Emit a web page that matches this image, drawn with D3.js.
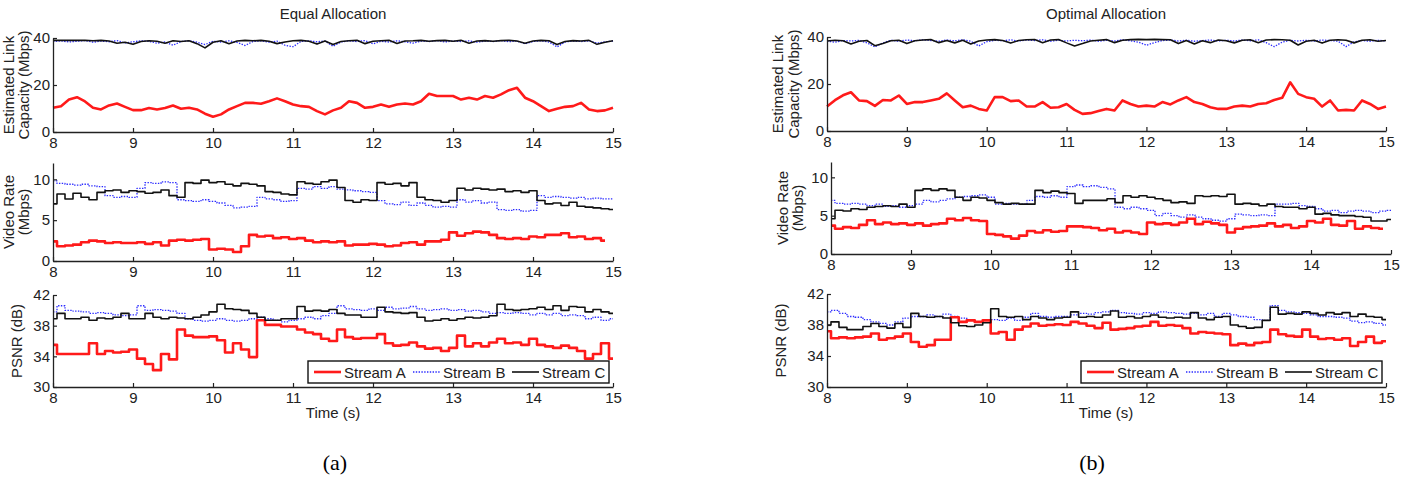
<!DOCTYPE html>
<html>
<head>
<meta charset="utf-8">
<script src="https://cdn.jsdelivr.net/npm/d3@7"></script>
<style>
  body { margin: 0; background: #fff; }
  text { font-family: "Liberation Sans", Arial, sans-serif; fill: #222; }
</style>
</head>
<body>
<svg id="chart" width="1410" height="480"></svg>
<script>
// time axis: samples every 0.1 s from 8 to 15 s
var times = d3.range(71).map(i => 8 + i / 10);
var xTicks = [8, 9, 10, 11, 12, 13, 14, 15];
var streams = ["Stream A", "Stream B", "Stream C"];

// ---- (a) Equal Allocation ----
var eqCapA = [10.3,11,13.8,14.8,13,10.3,9.6,11.3,12.1,10.7,
  9.3,9.3,10.2,9.6,10.2,11.3,9.9,10.3,9.6,7.8,
  6.5,7.5,9.6,11,12.4,12.4,12,13.1,14.3,13.1,
  11.7,11,10.7,8.9,7.5,9.2,10.3,13.1,12.4,10.3,
  10.7,11.7,10.7,11.7,12.1,11.7,13.1,16.3,15.3,15.3,
  15.3,13.8,14.6,13.8,15.3,14.6,16,17.8,18.8,14.6,
  13.1,11,8.9,9.9,10.7,11,12.4,9.6,8.9,9.2,10.3];
var eqCapB = [38.5,38.8,38.3,38.6,38.9,38.2,38.7,38.4,38.9,37.9,
  38.4,38.8,38.6,37.8,38.3,36.9,38.5,38.8,38.2,37.2,
  38.6,38.3,38.8,38.1,36.8,38.5,38.8,38.2,38.7,36.9,
  36.3,38.5,38.8,38.4,38.7,36.5,38.3,38.8,38.5,38.9,
  37.5,38.6,38.3,38.8,38.4,37.8,38.7,38.5,38.9,38.3,
  38.7,38.5,38.8,38.2,38.7,38.5,38.9,38.4,38.7,37.5,
  38.5,38.8,38.3,36.2,38.3,38.7,38.5,38.8,37.8,38.4,38.7];
var eqCapC = [39,39,39,39,39,38.8,39,38.7,37.8,38.2,
  37.3,38.5,38.8,38.6,37.8,38.8,38.5,38.8,37.6,35.8,
  38.2,38.8,37.6,38.7,39,38.8,39,38.6,37.6,38.3,
  38.8,39,38.6,37.4,38.7,37.2,38.5,38.8,39,37.6,
  38.6,38.8,39,37.7,38.7,38.8,39,38.6,38.9,39,
  38.6,39,37.8,38.7,38.9,38.6,38.9,39,38.7,37.8,
  38.7,39,38.8,37.2,38.5,38.9,38.7,39,37.3,38.2,38.8];

var eqRateA = [2.4,1.8,1.9,2.0,2.3,2.5,2.4,2.2,2.3,2.2,
  2.2,2.3,2.1,2.3,1.9,2.5,2.6,2.5,2.6,2.7,
  1.4,1.5,1.4,1.1,1.8,3.2,3.0,3.1,2.8,2.9,
  2.7,2.8,2.5,2.3,2.4,2.3,2.4,1.9,2.0,2.0,
  2.1,2.0,1.8,1.9,2.2,2.3,2.0,2.4,2.4,2.6,
  3.5,3.1,3.4,3.6,3.5,3.2,2.8,2.7,2.8,2.7,
  3.0,2.9,3.2,3.2,3.4,2.9,3.0,2.7,2.8,2.5];
var eqRateB = [9.8,9.5,9.4,9.3,9.4,9.2,9.1,8.0,7.8,7.9,
  7.8,8.9,9.6,9.5,9.7,9.6,7.5,7.4,7.3,7.5,
  7.3,7.1,6.8,6.5,6.6,6.7,7.8,7.6,7.5,7.3,
  7.4,8.9,8.8,9.1,8.9,9.1,8.8,8.7,8.6,8.5,
  8.4,7.4,7.0,6.9,7.2,6.8,7.1,6.8,6.6,6.7,
  6.6,7.5,7.2,7.4,7.1,7.2,6.3,6.2,6.3,6.1,
  6.2,8.0,7.8,7.9,7.8,7.7,7.8,7.6,7.7,7.6,7.6];
var eqRateC = [7.0,8.2,7.6,8.3,7.8,7.5,8.4,8.6,8.7,8.4,
  8.6,8.5,8.3,8.4,8.7,8.0,7.8,9.6,9.5,9.9,
  9.6,9.7,9.4,9.2,9.5,9.4,9.2,8.5,8.4,8.2,
  8.1,9.7,9.5,9.4,9.7,9.9,9.0,7.4,7.2,7.5,
  7.4,9.6,9.4,9.5,9.2,9.6,7.8,7.5,7.4,7.2,
  7.4,8.9,8.7,8.9,8.8,8.7,8.8,8.5,8.6,8.4,
  8.6,7.4,7.0,7.1,6.8,7.2,6.7,6.6,6.5,6.4,6.3];

var eqPsnrA = [35.5,34.3,34.3,34.3,34.3,35.7,34.3,34.7,34.5,34.6,
  34.9,33.7,33.0,32.2,34.3,33.6,37.5,36.7,36.5,36.5,
  36.6,36.1,34.5,35.7,34.9,33.9,38.7,38.1,38.1,37.9,
  37.9,37.5,37.1,36.9,36.3,36.0,37.5,36.5,36.3,36.4,
  36.4,36.9,35.7,35.4,35.5,35.8,35.3,35.0,35.1,34.7,
  35.1,36.7,35.3,35.7,35.3,35.8,36.3,35.7,35.8,35.5,
  36.3,35.5,35.3,35.1,35.4,35.1,34.7,33.7,34.3,35.7,33.7];
var eqPsnrB = [39.8,40.6,40.0,39.9,39.8,39.6,39.7,39.6,39.4,39.3,
  39.4,40.6,40.0,40.1,40.0,39.9,39.6,38.9,38.7,38.6,
  38.7,38.9,38.7,38.6,38.7,38.9,39.1,38.9,38.7,38.5,
  38.7,38.9,39.1,38.9,39.3,39.6,40.6,40.2,40.1,40.0,
  40.2,40.0,40.4,40.2,40.3,40.5,40.2,40.0,40.1,40.2,
  40.0,40.1,39.9,40.0,39.8,39.6,39.7,39.6,39.7,39.6,
  39.4,39.6,39.4,39.6,39.3,39.4,39.3,38.9,39.1,38.7,38.9];
var eqPsnrC = [38.9,39.6,38.9,38.9,39.1,38.7,39.0,38.9,39.1,39.6,
  38.9,38.9,39.6,39.1,38.9,39.1,39.0,38.9,39.1,39.4,
  39.8,40.8,40.2,40.1,40.0,39.6,39.1,38.7,38.7,38.9,
  38.9,40.5,39.9,40.0,39.9,40.1,39.6,39.4,39.4,39.1,
  39.1,40.4,39.8,39.7,39.6,39.7,39.1,38.6,38.7,38.9,
  38.7,38.9,39.1,39.0,39.1,39.3,40.8,40.1,40.0,40.1,
  40.2,40.4,40.1,40.6,40.0,40.5,40.4,39.8,40.1,39.8,39.6];

// ---- (b) Optimal Allocation ----
var optCapA = [10.4,13.1,15.2,16.5,13,12.7,10.7,13.2,13,15.1,
  11.5,12.3,12.3,13,13.7,16,13,10.1,10.8,9.4,
  8.7,14.4,14.4,12.7,13,10.4,10.4,12.3,9.9,10.1,
  11.5,9,7.3,7.6,8.5,9.4,8.7,13,11.5,10.4,
  10.8,10.4,12.3,11.3,13,14.4,12.3,11.5,10.1,9.4,
  9.4,10.4,10.8,10.4,11.5,11.8,13.2,14.1,20.7,15.8,
  14.4,13.7,10.4,13,8.7,9,8.7,13,11.5,9.4,10.4];
var optCapB = [38.2,37.8,38.5,38.3,38.6,37.5,35.8,37.5,38.6,38.2,
  38.7,38.4,38.8,38.5,38.2,38.7,38.4,38.8,38.2,36.2,
  38.0,38.6,38.4,38.8,38.3,38.7,38.5,38.8,38.2,38.6,
  38.3,38.6,38.4,38.7,38.2,38.6,38.3,38.8,38.4,37.8,
  36.5,37.6,38.5,38.7,38.3,38.6,38.2,38.5,38.7,38.3,
  38.6,38.3,38.7,38.4,38.8,37.6,35.9,37.8,38.6,38.3,
  38.6,38.3,38.7,38.5,38.2,35.9,37.9,38.5,38.2,38.6,38.3];
var optCapC = [38.3,38.6,38.4,37,38.2,38.5,36.3,37.2,38.4,38.6,
  37.2,38.4,38.7,38.9,37.6,38.5,37.5,38.6,37.0,38.3,
  38.7,38.9,38.5,37.4,38.5,38.8,38.9,37.6,38.7,38.9,
  37.5,36.2,37.2,38.3,38.6,38.9,37.6,38.6,38.9,39,
  38.9,39,38.9,38.8,37.2,38.5,37.0,38.4,37.6,38.7,
  38.4,37.5,38.6,38.8,37.6,38.7,38.9,38.8,38.6,36.6,
  38.2,38.6,37.4,38.6,38.8,38.6,37.5,38.6,38.8,38.2,38.5];

var optRateA = [3.7,3.3,3.5,3.4,3.8,4.4,3.9,4.1,3.9,4.0,
  3.8,4.0,3.7,3.9,4.0,4.6,4.4,4.7,4.4,4.3,
  2.6,2.5,2.3,2.0,2.4,3.0,2.8,3.1,2.9,3.0,
  3.6,3.6,3.5,3.4,3.1,3.3,2.8,3.0,2.8,2.6,
  4.1,3.9,4.0,3.8,4.1,4.6,3.9,4.2,4.0,3.8,
  2.8,3.3,3.5,3.6,3.7,4.0,3.6,3.8,3.4,3.6,
  4.3,4.1,4.6,3.8,3.7,4.3,3.3,3.6,3.4,3.3];
var optRateB = [7.0,6.6,6.5,6.6,6.5,6.3,6.5,6.2,6.3,6.1,
  6.3,6.5,7.0,6.8,7.0,7.2,7.4,7.5,7.6,7.7,
  7.4,6.5,6.6,6.5,6.5,7.0,7.5,7.4,7.6,7.4,
  8.8,9.0,8.8,8.9,8.7,8.5,6.1,5.9,6.1,5.9,
  5.7,5.0,5.3,5.0,4.8,5.1,4.8,4.6,4.4,4.3,
  4.6,5.2,5.1,5.0,5.1,5.0,6.5,6.5,6.6,6.3,
  6.2,5.9,5.6,5.7,5.4,5.6,5.7,5.6,5.4,5.6,5.7];
var optRateC = [4.6,5.7,5.6,5.9,5.8,6.1,6.2,6.3,6.2,6.5,
  6.1,8.3,8.5,8.3,8.5,8.3,7.4,7.0,7.4,7.3,
  7.0,6.7,6.5,6.6,6.5,6.5,8.3,8.0,8.2,8.0,
  7.9,6.6,7.0,7.0,7.0,7.2,6.7,7.6,7.4,7.6,
  7.4,7.2,7.0,6.7,6.8,6.6,7.6,7.5,7.6,7.5,
  7.8,6.5,6.6,6.5,6.3,6.5,6.2,6.1,6.1,5.9,
  6.1,5.2,5.3,5.1,5.0,5.0,4.9,4.8,4.3,4.3,4.5];

var optPsnrA = [37.2,36.3,36.4,36.3,36.4,36.5,36.9,36.1,36.3,36.5,
  36.9,35.8,35.2,35.4,36.1,36.1,39.0,38.4,38.6,38.4,
  38.6,36.9,37.1,36.1,37.4,37.8,38.2,37.9,38.0,38.1,
  38.0,38.4,38.2,37.9,37.6,38.3,37.4,37.5,37.6,37.8,
  37.9,38.4,37.9,38.0,37.9,37.6,36.9,37.1,37.0,36.9,
  36.8,35.4,35.6,35.4,35.7,35.8,37.4,36.8,36.6,36.5,
  37.4,36.5,36.2,36.3,36.1,36.3,35.3,35.8,36.5,35.7,35.9];
var optPsnrB = [39.7,39.9,39.5,39.1,39.0,38.7,38.4,38.2,38.0,38.4,
  38.9,39.1,39.1,39.3,39.1,39.4,39.1,38.9,38.6,38.4,
  38.6,38.7,38.6,38.9,38.6,39.0,39.5,39.1,39.0,39.1,
  39.1,39.3,39.5,39.4,39.6,39.7,39.9,39.6,39.5,39.4,
  39.6,39.5,39.7,39.6,39.5,39.4,39.5,39.3,39.5,39.1,
  39.5,39.3,39.1,39.0,38.7,38.6,40.5,39.9,39.7,39.6,
  39.5,39.3,39.1,39.1,39.0,38.9,38.5,38.3,38.4,38.2,38.0];
var optPsnrC = [38.0,38.4,37.7,37.4,37.4,37.8,38.2,37.8,37.6,38.2,
  37.7,39.5,39.1,39.0,39.1,38.9,38.3,37.9,37.8,38.0,
  38.3,40.1,39.1,39.0,39.1,38.7,39.1,38.9,38.7,38.9,
  39.0,39.7,39.0,39.1,39.0,39.3,39.8,39.0,39.1,38.9,
  39.1,39.3,39.0,38.9,39.0,38.9,39.6,38.9,38.7,39.0,
  39.1,38.0,37.8,37.6,37.7,38.6,40.3,39.4,39.5,39.4,
  39.7,39.5,39.3,39.6,39.4,39.6,39.1,39.4,39.1,39.0,38.7];

var capTicks = [0, 20, 40];
var rateTicks = [0, 5, 10];
var psnrTicks = [30, 34, 38, 42];

// stream styles: A red solid thick, B blue dotted, C black solid
var styles = [
  { color: "#ff1a1a", width: 2.6, dash: null },
  { color: "#2b2bff", width: 1.3, dash: "1.4,1.4" },
  { color: "#111", width: 1.6, dash: null }
];

var svg = d3.select("#chart");

function drawSubplot(box, yDomain, yTicks, data, labelLines, labelX, curve, legend) {
  var x = d3.scaleLinear().domain([8, 15]).range([box.x0, box.x1]);
  var y = d3.scaleLinear().domain(yDomain).range([box.y1, box.y0]);
  var g = svg.append("g");

  // the three streams, C drawn last like in the original
  [1, 0, 2].forEach(function(k) {
    var line = d3.line()
      .x((d, i) => x(times[i]))
      .y(d => y(d))
      .curve(curve);
    var p = g.append("path")
      .attr("d", line(data[k]))
      .attr("fill", "none")
      .attr("stroke", styles[k].color)
      .attr("stroke-width", styles[k].width)
      .attr("stroke-linejoin", "round");
    if (styles[k].dash) p.attr("stroke-dasharray", styles[k].dash);
  });

  var ax = g.append("g")
    .attr("transform", "translate(0," + box.y1 + ")")
    .call(d3.axisBottom(x).tickValues(xTicks).tickFormat(d3.format("d"))
      .tickSizeInner(-4).tickSizeOuter(0).tickPadding(5));
  var ay = g.append("g")
    .attr("transform", "translate(" + box.x0 + ",0)")
    .call(d3.axisLeft(y).tickValues(yTicks).tickFormat(d3.format("d"))
      .tickSizeInner(-4).tickSizeOuter(0).tickPadding(3));
  [ax, ay].forEach(function(a) {
    a.attr("font-family", null).attr("font-size", null);
    a.select(".domain").attr("stroke", "#222").attr("stroke-width", 1.3);
    a.selectAll(".tick line").attr("stroke", "#222").attr("stroke-width", 1.2);
    a.selectAll(".tick text").attr("fill", "#222").style("font-size", "15px");
  });

  // rotated y label, one text per line
  var cy = (box.y0 + box.y1) / 2;
  labelLines.forEach(function(s, i) {
    g.append("text")
      .attr("transform", "translate(" + labelX[i] + "," + cy + ") rotate(-90)")
      .attr("text-anchor", "middle")
      .attr("dominant-baseline", "central")
      .style("font-size", "15px")
      .text(s);
  });

  if (legend) {
    var lw = 301, lh = 22;
    var lx = box.x1 - 4 - lw, ly = box.y1 - 4 - lh;
    var lg = g.append("g").attr("transform", "translate(" + lx + "," + ly + ")");
    lg.append("rect").attr("width", lw).attr("height", lh)
      .attr("fill", "#fff").attr("stroke", "#111").attr("stroke-width", 1.4);
    streams.forEach(function(s, k) {
      var ox = 6 + k * 99;
      var l = lg.append("line")
        .attr("x1", ox).attr("x2", ox + 27)
        .attr("y1", lh / 2).attr("y2", lh / 2)
        .attr("stroke", styles[k].color)
        .attr("stroke-width", styles[k].width);
      if (styles[k].dash) l.attr("stroke-dasharray", styles[k].dash);
      lg.append("text")
        .attr("x", ox + 30).attr("y", lh / 2)
        .attr("dominant-baseline", "central")
        .style("font-size", "15px")
        .text(s);
    });
  }
}

// panel (a)
drawSubplot({ x0: 53, x1: 613, y0: 38, y1: 132 }, [0, 40], capTicks,
  [eqCapA, eqCapB, eqCapC], ["Estimated Link", "Capacity (Mbps)"], [8, 23], d3.curveLinear, false);
drawSubplot({ x0: 53, x1: 613, y0: 163, y1: 261 }, [0, 12], rateTicks,
  [eqRateA, eqRateB, eqRateC], ["Video Rate", "(Mbps)"], [8, 23], d3.curveStep, false);
drawSubplot({ x0: 53, x1: 613, y0: 295, y1: 387 }, [30, 42], psnrTicks,
  [eqPsnrA, eqPsnrB, eqPsnrC], ["PSNR (dB)"], [16], d3.curveStep, true);

// panel (b)
drawSubplot({ x0: 827, x1: 1386, y0: 37, y1: 131 }, [0, 40], capTicks,
  [optCapA, optCapB, optCapC], ["Estimated Link", "Capacity (Mbps)"], [777, 793], d3.curveLinear, false);
drawSubplot({ x0: 831, x1: 1391, y0: 162, y1: 254 }, [0, 12], rateTicks,
  [optRateA, optRateB, optRateC], ["Video Rate", "(Mbps)"], [782, 797], d3.curveStep, false);
drawSubplot({ x0: 827, x1: 1386, y0: 294, y1: 387 }, [30, 42], psnrTicks,
  [optPsnrA, optPsnrB, optPsnrC], ["PSNR (dB)"], [780], d3.curveStep, true);

// titles, x labels and captions
[[333, "Equal Allocation"], [1106, "Optimal Allocation"]].forEach(function(t) {
  svg.append("text").attr("x", t[0]).attr("y", 19)
    .attr("text-anchor", "middle").style("font-size", "15px").text(t[1]);
});
[333, 1106].forEach(function(cx) {
  svg.append("text").attr("x", cx).attr("y", 418)
    .attr("text-anchor", "middle").style("font-size", "15px").text("Time (s)");
});
[[335, "(a)"], [1092, "(b)"]].forEach(function(t) {
  svg.append("text").attr("x", t[0]).attr("y", 470)
    .attr("text-anchor", "middle")
    .style("font-family", "'Liberation Serif', 'Times New Roman', serif")
    .style("font-size", "22px").style("fill", "#000")
    .text(t[1]);
});
</script>
</body>
</html>
